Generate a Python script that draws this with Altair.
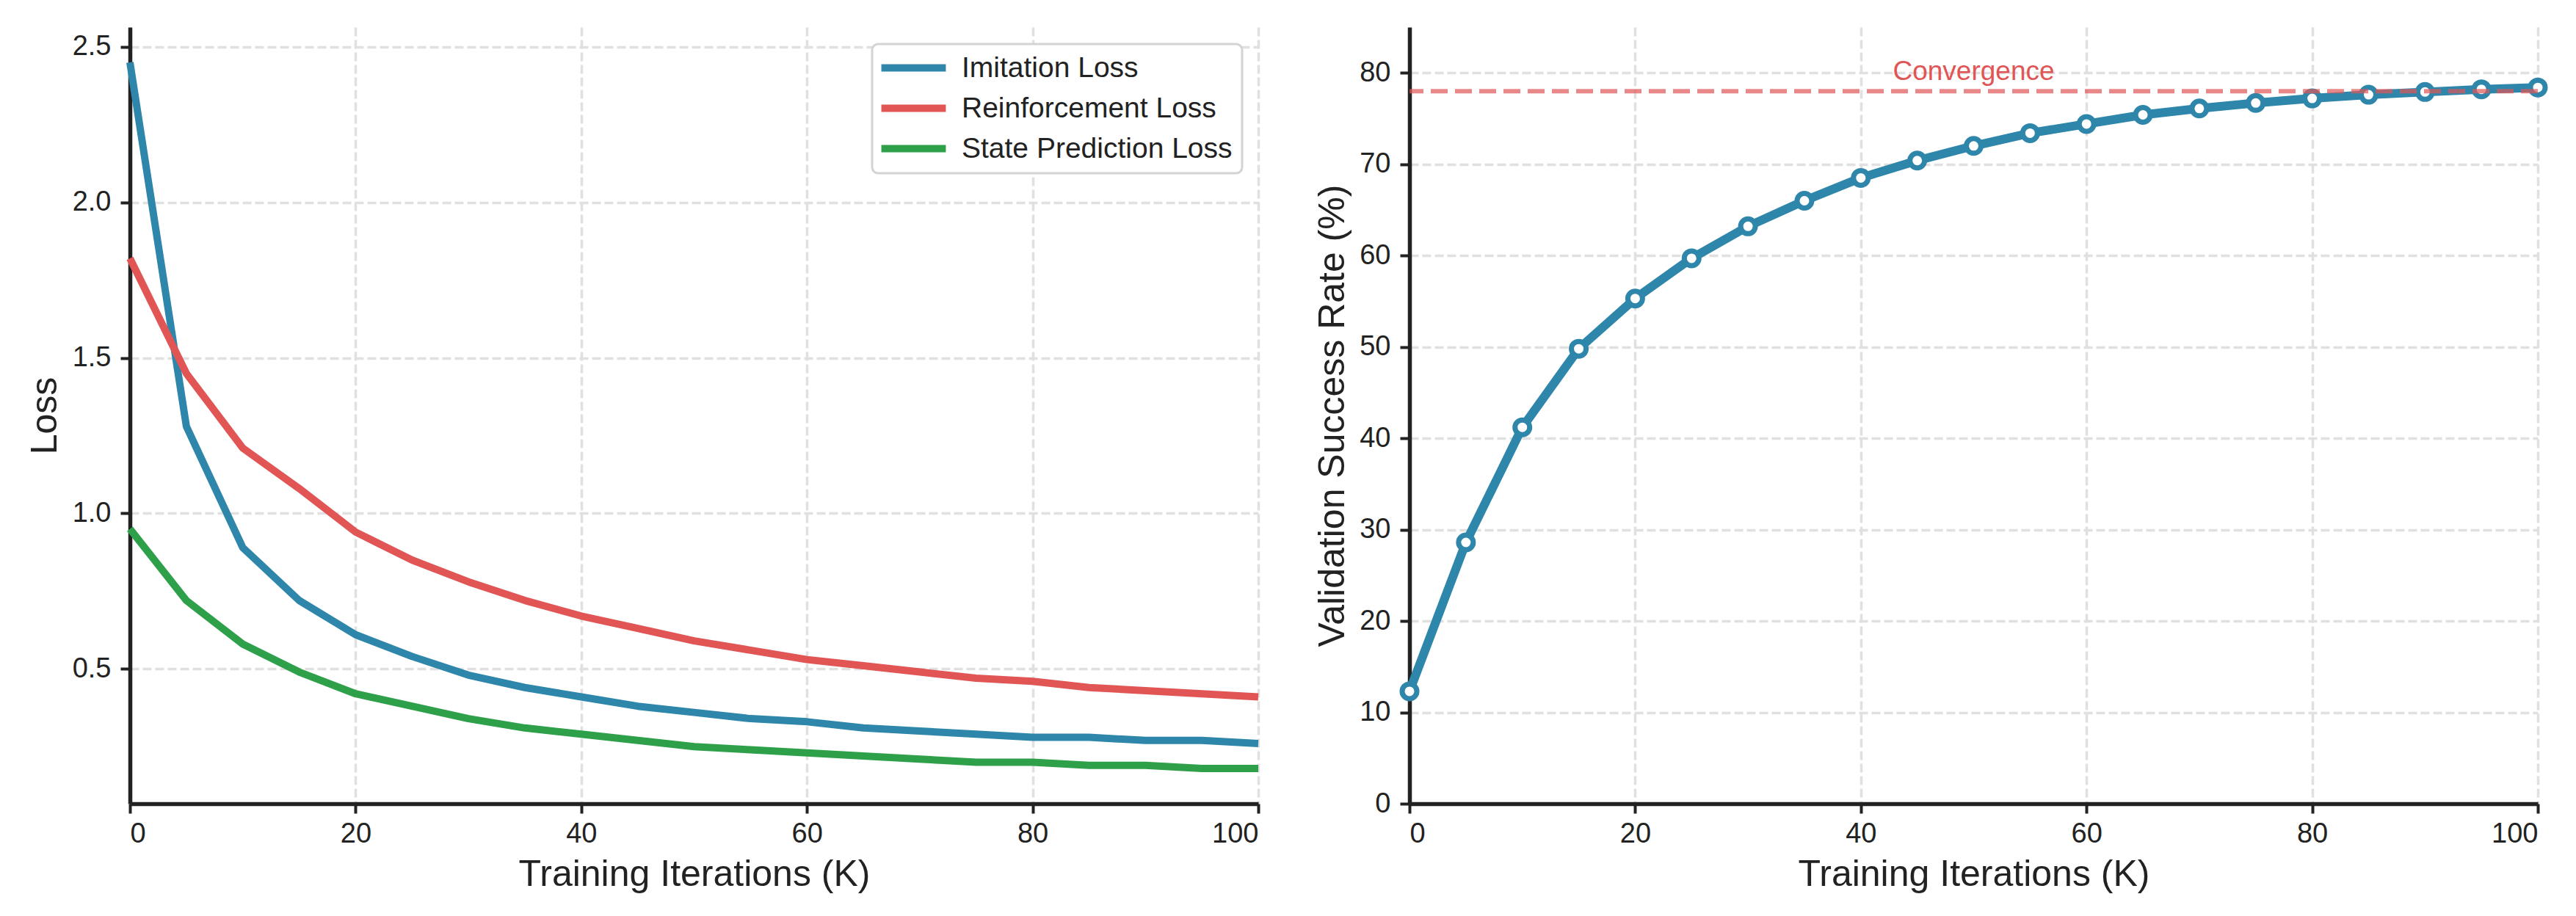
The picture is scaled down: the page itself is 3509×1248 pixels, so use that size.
import altair as alt
import pandas as pd

# ---------------- data ----------------
iterations = [0, 5, 10, 15, 20, 25, 30, 35, 40, 45, 50, 55, 60, 65, 70, 75, 80, 85, 90, 95, 100]
imitation_loss = [2.45, 1.28, 0.89, 0.72, 0.61, 0.54, 0.48, 0.44, 0.41, 0.38, 0.36,
                  0.34, 0.33, 0.31, 0.30, 0.29, 0.28, 0.28, 0.27, 0.27, 0.26]
reinforcement_loss = [1.82, 1.45, 1.21, 1.08, 0.94, 0.85, 0.78, 0.72, 0.67, 0.63, 0.59,
                      0.56, 0.53, 0.51, 0.49, 0.47, 0.46, 0.44, 0.43, 0.42, 0.41]
state_prediction_loss = [0.95, 0.72, 0.58, 0.49, 0.42, 0.38, 0.34, 0.31, 0.29, 0.27, 0.25,
                         0.24, 0.23, 0.22, 0.21, 0.20, 0.20, 0.19, 0.19, 0.18, 0.18]
success_rate = [12.3, 28.6, 41.2, 49.8, 55.3, 59.7, 63.2, 66.0, 68.5, 70.4, 72.0,
                73.4, 74.4, 75.4, 76.1, 76.7, 77.2, 77.6, 77.9, 78.2, 78.4]
series_names = ["Imitation Loss", "Reinforcement Loss", "State Prediction Loss"]
series_colors = ["#2E86AB", "#E15555", "#2EA04A"]
convergence_value = [78]
convergence_label = ["Convergence"]
x_ticks = [0, 20, 40, 60, 80, 100]
loss_ticks = [0.5, 1.0, 1.5, 2.0, 2.5]
rate_ticks = [0, 10, 20, 30, 40, 50, 60, 70, 80]

FONT = "Liberation Sans"
INK = "#222222"
W, H = 1537, 1058

loss_df = pd.DataFrame({
    "iter": iterations * 3,
    "loss": imitation_loss + reinforcement_loss + state_prediction_loss,
    "series": [series_names[0]] * len(iterations)
              + [series_names[1]] * len(iterations)
              + [series_names[2]] * len(iterations),
})
rate_df = pd.DataFrame({"iter": iterations, "rate": success_rate})
conv_df = pd.DataFrame({"rate": convergence_value, "iter": [50], "label": convergence_label})

x_axis = alt.Axis(values=x_ticks, format="d", title="Training Iterations (K)",
                  titleBaseline="alphabetic", titleY=111, labelPadding=9)

# ---------------- left panel ----------------
left = alt.Chart(loss_df).mark_line(strokeWidth=10, strokeJoin="round").encode(
    x=alt.X("iter:Q", scale=alt.Scale(domain=[0, 100], nice=False), axis=x_axis),
    y=alt.Y("loss:Q", scale=alt.Scale(domain=[0.0665, 2.5635], nice=False, zero=False),
            axis=alt.Axis(values=loss_ticks, format=".1f", title="Loss",
                          titleBaseline="alphabetic", titleX=-101, labelPadding=13)),
    color=alt.Color("series:N",
                    scale=alt.Scale(domain=series_names, range=series_colors),
                    legend=alt.Legend(orient="none", legendX=1011, legendY=23, title=None,
                                      symbolType="M-3.03,0L3.03,0", symbolSize=841,
                                      symbolOffset=24, symbolFillColor="transparent",
                                      symbolStrokeWidth=10, labelFontSize=39,
                                      labelFont=FONT, labelColor=INK, labelOffset=46,
                                      labelLimit=1000, rowPadding=14, padding=13,
                                      strokeColor="#d4d4d4",
                                      fillColor="white", cornerRadius=8)),
).properties(width=W, height=H)

# ---------------- right panel ----------------
rx = alt.X("iter:Q", scale=alt.Scale(domain=[0, 100], nice=False), axis=x_axis)
ry = alt.Y("rate:Q", scale=alt.Scale(domain=[0, 85], nice=False),
           axis=alt.Axis(values=rate_ticks, format="d", title="Validation Success Rate (%)",
                         titleBaseline="alphabetic", titleX=-90, labelPadding=13))

rate_line = alt.Chart(rate_df).mark_line(strokeWidth=12, color="#2E86AB",
                                         strokeJoin="round").encode(x=rx, y=ry)
rate_pts = alt.Chart(rate_df).mark_point(size=400, filled=True, fill="white",
                                         stroke="#2E86AB", strokeWidth=7,
                                         opacity=1, shape="circle").encode(x=rx, y=ry)
conv_rule = alt.Chart(conv_df).mark_rule(strokeDash=[23, 10], strokeWidth=6,
                                         color="#E05555", opacity=0.7).encode(y=ry)
conv_text = alt.Chart(conv_df).mark_text(font=FONT, fontSize=37, color="#E05555",
                                         align="center", baseline="alphabetic",
                                         dy=-15).encode(x=rx, y=ry, text="label:N")

right = alt.layer(rate_line, rate_pts, conv_rule, conv_text).properties(width=W, height=H)

chart = alt.hconcat(left, right, spacing=71).properties(
    padding={"left": 28, "top": 29, "right": 10, "bottom": 10},
    background="white",
).configure_view(strokeWidth=0).configure_axis(
    domainColor=INK, domainWidth=5.5, tickColor=INK, tickWidth=4, tickSize=13,
    labelFont=FONT, labelFontSize=38, labelColor=INK,
    titleFont=FONT, titleFontSize=50, titleFontWeight="normal", titleColor=INK,
    gridColor="#e0e0e0", gridDash=[12, 5], gridWidth=3.5,
).configure_legend(strokeWidth=3)

chart.save("out.html", embed_options={"renderer": "svg", "actions": False})
